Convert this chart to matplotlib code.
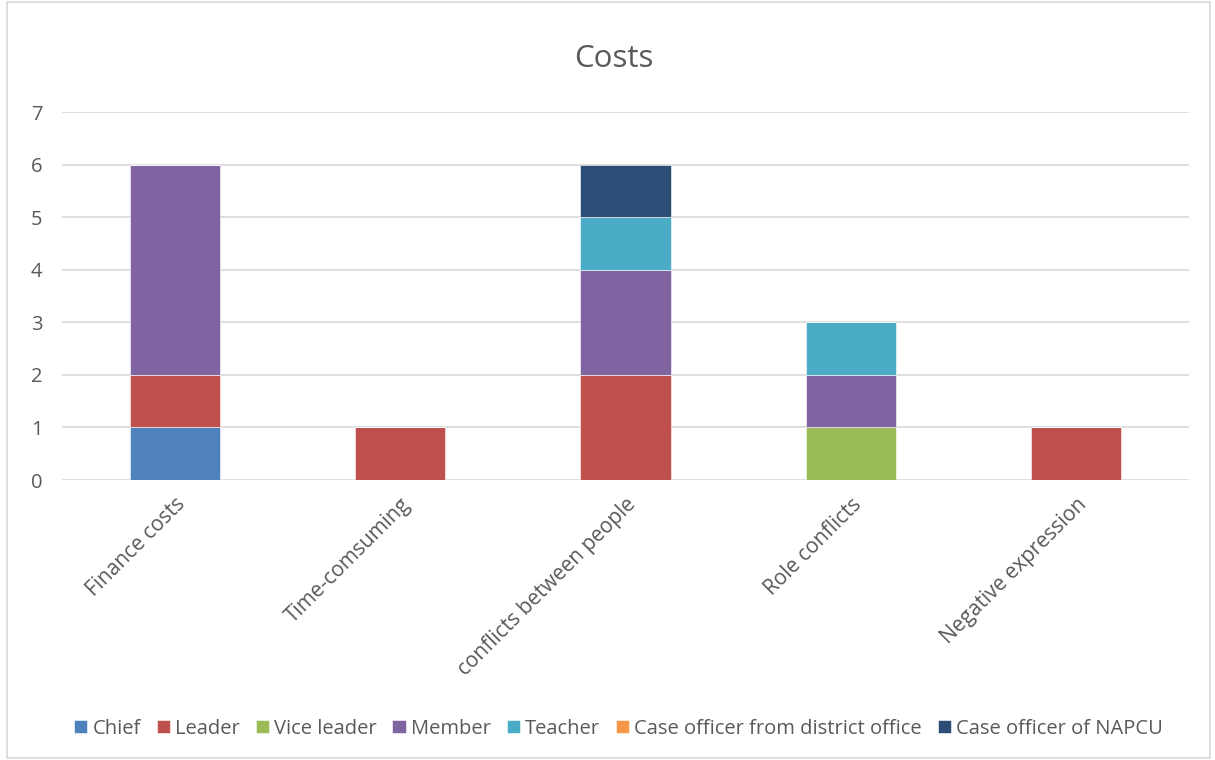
import matplotlib.pyplot as plt
import matplotlib.patches as mpatches
import numpy as np

categories = ["Finance costs", "Time-comsuming", "conflicts between people",
              "Role conflicts", "Negative expression"]
groups = ["Chief", "Leader", "Vice leader", "Member", "Teacher",
          "Case officer from district office", "Case officer of NAPCU"]
chief = [1, 0, 0, 0, 0]
leader = [1, 1, 2, 0, 1]
vice_leader = [0, 0, 0, 1, 0]
member = [4, 0, 2, 1, 0]
teacher = [0, 0, 1, 1, 0]
district_officer = [0, 0, 0, 0, 0]
napcu_officer = [0, 0, 1, 0, 0]
colors = ["#4F81BD", "#C0504D", "#9BBB59", "#8064A2", "#4BACC6", "#F79646", "#2C4D75"]

plt.rcParams['font.family'] = ['Open Sans', 'DejaVu Sans']
txt = "#595959"

fig = plt.figure(figsize=(12.15, 7.6), dpi=100)
ax = fig.add_axes([0.051, 0.3684, 0.9276, 0.4842])

x = np.arange(len(categories))
bottom = np.zeros(len(categories))
series = [chief, leader, vice_leader, member, teacher, district_officer, napcu_officer]
for name, vals, c in zip(groups, series, colors):
    vals = np.array(vals, dtype=float)
    ax.bar(x, vals, 0.4, bottom=bottom, color=c, label=name,
           edgecolor="#ffffff", linewidth=0.4, zorder=3)
    bottom += vals

ax.set_xlim(-0.5, len(categories) - 0.5)
ax.set_ylim(0, 7)
ax.set_yticks(range(8))
ax.yaxis.grid(True, color="#d9d9d9", linewidth=1.2, zorder=0)
ax.set_axisbelow(True)
for s in ax.spines.values():
    s.set_visible(False)
ax.tick_params(length=0, labelsize=14.5, colors=txt)
ax.tick_params(axis='y', pad=14)
ax.tick_params(axis='x', pad=10, labelsize=15)
ax.set_xticks(x)
ax.set_xticklabels(categories, rotation=45, ha='right', rotation_mode='anchor')

fig.text(0.505, 0.923, "Costs", ha='center', va='center', fontsize=22.5, color=txt)

fig.legend(loc='center', bbox_to_anchor=(0.509, 0.041), ncol=7, frameon=False,
           fontsize=14.5, labelcolor=txt, handlelength=0.65, handleheight=0.65,
           handletextpad=0.25, columnspacing=0.8)

fig.patches.append(mpatches.Rectangle((0.006, 0.003), 0.99, 0.994, transform=fig.transFigure,
                                      fill=False, edgecolor="#d9d9d9", linewidth=1.2))

fig.savefig("out.png", dpi=100)
